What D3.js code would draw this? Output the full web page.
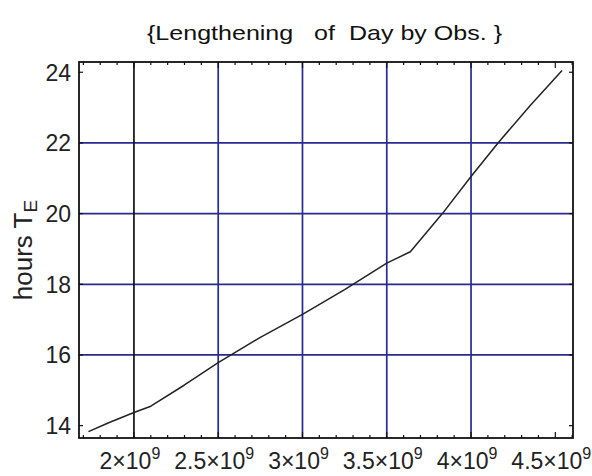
<!DOCTYPE html>
<html>
<head>
<meta charset="utf-8">
<script src="https://cdn.jsdelivr.net/npm/d3@7/dist/d3.min.js"></script>
<style>
html,body{margin:0;padding:0;background:#fff;}
svg{display:block;}
</style>
</head>
<body>
<svg id="chart" width="592" height="476"></svg>
<script>
// ---- data ----
const years = [1.73e9, 1.85e9, 2.0e9, 2.1e9, 2.3e9, 2.5e9, 2.75e9, 3.0e9, 3.25e9, 3.5e9, 3.64e9, 3.83e9, 4.0e9, 4.16e9, 4.35e9, 4.54e9];
const hours = [13.83, 14.08, 14.37, 14.55, 15.15, 15.78, 16.5, 17.15, 17.85, 18.6, 18.92, 20.0, 21.05, 22.0, 23.05, 24.05];
const xTicks = [2e9, 2.5e9, 3e9, 3.5e9, 4e9, 4.5e9];
const xTickMantissa = ["2", "2.5", "3", "3.5", "4", "4.5"];
const xGrid = [2.5e9, 3e9, 3.5e9, 4e9];
const xGridBlack = [2e9];
const yTicks = [14, 16, 18, 20, 22, 24];
const yGrid = [16, 18, 20, 22];
const titleText = "{Lengthening   of  Day by Obs. }";

// ---- layout ----
const svg = d3.select("#chart");
const L = 79, R = 573, T = 62, B = 438;
const x = d3.scaleLinear().domain([1.674e9, 4.605e9]).range([L, R]);
const y = d3.scaleLinear().domain([13.65, 24.29]).range([B, T]);

const gridBlue = "#2a2a92";

// grid lines
svg.append("g").selectAll("line").data(yGrid).join("line")
  .attr("x1", L).attr("x2", R)
  .attr("y1", d => y(d)).attr("y2", d => y(d))
  .attr("stroke", gridBlue).attr("stroke-width", 1.7);
svg.append("g").selectAll("line").data(xGrid).join("line")
  .attr("x1", d => x(d)).attr("x2", d => x(d))
  .attr("y1", T).attr("y2", B)
  .attr("stroke", gridBlue).attr("stroke-width", 1.7);
svg.append("g").selectAll("line").data(xGridBlack).join("line")
  .attr("x1", d => x(d)).attr("x2", d => x(d))
  .attr("y1", T).attr("y2", B)
  .attr("stroke", "#111").attr("stroke-width", 1.7);

// minor ticks on top/bottom
const minor = d3.range(17, 47).map(i => i * 1e8);
const tickG = svg.append("g").attr("stroke", "#111").attr("stroke-width", 1.2);
tickG.selectAll("line.b").data(minor).join("line").attr("class", "b")
  .attr("x1", d => x(d)).attr("x2", d => x(d))
  .attr("y1", B).attr("y2", d => B - (Math.round(d / 1e8) % 5 === 0 ? 6 : 3));
tickG.selectAll("line.t").data(minor).join("line").attr("class", "t")
  .attr("x1", d => x(d)).attr("x2", d => x(d))
  .attr("y1", T).attr("y2", d => T + (Math.round(d / 1e8) % 5 === 0 ? 6 : 3));
tickG.selectAll("line.l").data(yTicks).join("line").attr("class", "l")
  .attr("x1", L).attr("x2", L + 4)
  .attr("y1", d => y(d)).attr("y2", d => y(d));
tickG.selectAll("line.r").data(yTicks).join("line").attr("class", "r")
  .attr("x1", R).attr("x2", R - 4)
  .attr("y1", d => y(d)).attr("y2", d => y(d));

// curve
const line = d3.line().x((d, i) => x(years[i])).y(d => y(d));
svg.append("path").datum(hours)
  .attr("d", line)
  .attr("fill", "none")
  .attr("stroke", "#222")
  .attr("stroke-width", 1.5)
  .attr("stroke-linejoin", "round");

// frame
svg.append("rect").attr("x", L).attr("y", T).attr("width", R - L).attr("height", B - T)
  .attr("fill", "none").attr("stroke", "#111").attr("stroke-width", 1.8);

// y tick labels
svg.append("g").selectAll("text").data(yTicks).join("text")
  .attr("x", L - 8).attr("y", d => y(d))
  .attr("dy", "0.36em")
  .attr("text-anchor", "end")
  .attr("font-family", "Liberation Sans, Arial, sans-serif")
  .attr("font-size", 23)
  .attr("fill", "#222")
  .text(d => d);

// x tick labels with superscript
const xl = svg.append("g").selectAll("text").data(xTicks).join("text")
  .attr("x", d => x(d) - 4).attr("y", 469)
  .attr("text-anchor", "middle")
  .attr("font-family", "Liberation Sans, Arial, sans-serif")
  .attr("font-size", 23)
  .attr("fill", "#222");
xl.append("tspan").text((d, i) => xTickMantissa[i] + "×10");
xl.append("tspan").attr("dy", -10).attr("font-size", 16).text("9");

// y axis title
const yt = svg.append("text")
  .attr("transform", "translate(32,250) rotate(-90)")
  .attr("text-anchor", "middle")
  .attr("font-family", "Liberation Sans, Arial, sans-serif")
  .attr("font-size", 26)
  .attr("fill", "#222");
yt.append("tspan").text("hours T");
yt.append("tspan").attr("dy", 5).attr("font-size", 19).text("E");

// title
svg.append("text")
  .attr("x", 147).attr("y", 40)
  .attr("xml:space", "preserve")
  .style("white-space", "pre")
  .attr("textLength", 355)
  .attr("lengthAdjust", "spacingAndGlyphs")
  .attr("font-family", "Liberation Sans, Arial, sans-serif")
  .attr("font-size", 21)
  .attr("fill", "#111")
  .text(titleText);
</script>
</body>
</html>
